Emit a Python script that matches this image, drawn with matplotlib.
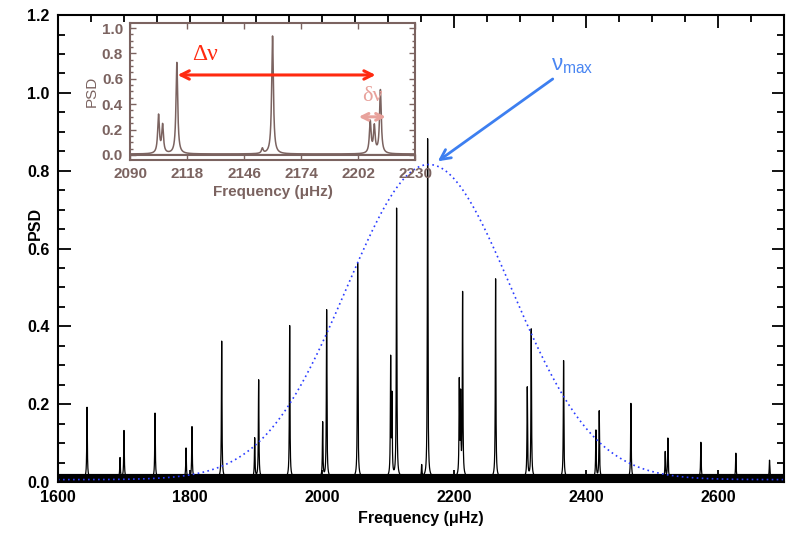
import numpy as np
import matplotlib
matplotlib.use("Agg")
import matplotlib.pyplot as plt
from matplotlib.ticker import MultipleLocator

plt.rcParams["font.family"] = ["Liberation Sans", "DejaVu Sans"]
plt.rcParams["mathtext.fontset"] = "custom"
plt.rcParams["mathtext.rm"] = "Liberation Sans"

# main spectrum: mode frequencies (uHz) and peak PSD
mode_freq = [1644, 1694, 1700, 1747, 1794, 1803, 1848, 1898, 1904, 1951,
             2001, 2007, 2054, 2104, 2106, 2113, 2151, 2160, 2208, 2210, 2213,
             2263, 2311, 2317, 2366, 2415, 2420, 2468, 2520, 2524, 2574,
             2627, 2678]
mode_height = [0.18, 0.05, 0.12, 0.165, 0.075, 0.13, 0.35, 0.10, 0.25, 0.39,
               0.14, 0.43, 0.55, 0.30, 0.20, 0.69, 0.03, 0.87, 0.24, 0.20, 0.47,
               0.51, 0.23, 0.38, 0.30, 0.12, 0.17, 0.19, 0.065, 0.10, 0.09,
               0.062, 0.044]

# zoomed spectrum (inset)
inset_freq = [2104, 2106, 2113, 2155, 2160, 2208, 2210, 2213]
inset_height = [0.30, 0.22, 0.72, 0.04, 0.93, 0.25, 0.21, 0.50]

# envelope (gaussian fit) parameters
numax = 2162
env_height = 0.81
env_sigma = 125
env_floor = 0.006

line_width = 0.5   # lorentzian half width, uHz
noise_level = 0.012

def spectrum(f, freqs, heights):
    p = np.full_like(f, noise_level)
    for f0, h in zip(freqs, heights):
        p += h / (1 + ((f - f0) / line_width) ** 2)
    return p

freq = np.linspace(1600, 2700, 60000)
psd = spectrum(freq, mode_freq, mode_height)
envelope = env_floor + env_height * np.exp(-(freq - numax) ** 2 / (2 * env_sigma ** 2))

fig = plt.figure(figsize=(7.89, 5.39), dpi=100)
ax = fig.add_axes([0.0735, 0.1058, 0.9202, 0.8662])
ax.fill_between(freq, 0.002, 0.022, color="black", lw=0)
ax.plot(freq, psd, color="black", lw=0.9)
ax.plot(freq, envelope, color="#2a3cff", lw=1.2, ls=(0, (1, 2)))
ax.set_xlim(1600, 2700)
ax.set_ylim(0, 1.2)
ax.xaxis.set_major_locator(MultipleLocator(200))
ax.xaxis.set_minor_locator(MultipleLocator(50))
ax.yaxis.set_major_locator(MultipleLocator(0.2))
ax.yaxis.set_minor_locator(MultipleLocator(0.05))
ax.yaxis.set_major_formatter(plt.FuncFormatter(lambda v, p: f"{v:.1f}"))
ax.tick_params(which="both", direction="in", top=True, right=True, width=1.3)
ax.tick_params(which="major", length=9, labelsize=11.5, pad=6)
ax.tick_params(which="minor", length=5)
for lab in ax.get_xticklabels() + ax.get_yticklabels():
    lab.set_fontweight("bold")
for s in ax.spines.values():
    s.set_linewidth(1.5)
ax.set_xlabel("Frequency (\u03bcHz)", fontsize=11.5, fontweight="bold", labelpad=4)
fig.text(0.045, 1 - 223 / 539, "PSD", rotation=90, fontsize=11.5, fontweight="bold",
         ha="center", va="center")

# nu_max annotation
ax.annotate("", xy=(2172, 0.82), xytext=(2353, 1.04),
            arrowprops=dict(arrowstyle="->", color="#3d7ff0", lw=2, mutation_scale=18))
ax.text(2347, 1.07, r"$\mathrm{\nu}_{\mathrm{max}}$", color="#4a86f2", fontsize=16,
        ha="left", va="center")

# inset
brown = "#7b6360"
ins = fig.add_axes([0.1648, 0.7032, 0.3612, 0.2542])
ifreq = np.linspace(2090, 2230, 20000)
ipsd = spectrum(ifreq, inset_freq, inset_height) - 0.005
ins.fill_between(ifreq, -0.005, 0.012, color=brown, lw=0)
ins.plot(ifreq, ipsd, color=brown, lw=1.1)
ins.set_xlim(2090, 2230)
ins.set_ylim(-0.04, 1.04)
ins.set_xticks([2090, 2118, 2146, 2174, 2202, 2230])
ins.yaxis.set_major_locator(MultipleLocator(0.2))
ins.yaxis.set_minor_locator(MultipleLocator(0.05))
ins.yaxis.set_major_formatter(plt.FuncFormatter(lambda v, p: f"{v:.1f}"))
ins.tick_params(which="both", direction="in", top=True, right=True, color=brown,
                labelcolor=brown, width=1)
ins.tick_params(which="major", length=4, labelsize=11, pad=5)
ins.tick_params(which="minor", length=2.5)
for lab in ins.get_xticklabels() + ins.get_yticklabels():
    lab.set_fontweight("bold")
for s in ins.spines.values():
    s.set_linewidth(1.5)
    s.set_color(brown)
ins.set_xlabel("Frequency (\u03bcHz)", fontsize=11, fontweight="bold", color=brown,
               labelpad=3)
ins.set_ylabel("PSD", fontsize=11, color=brown, labelpad=2)

ins.annotate("", xy=(2112, 0.63), xytext=(2212, 0.63),
             arrowprops=dict(arrowstyle="<->", color="#ff2a10", lw=2.2, mutation_scale=15))
ins.text(2127, 0.79, "\u0394\u03bd", color="#ff2a10", fontsize=17,
         family=["Liberation Serif", "DejaVu Serif"], ha="center", va="center")
ins.annotate("", xy=(2201, 0.30), xytext=(2217, 0.30),
             arrowprops=dict(arrowstyle="<->", color="#e8a29c", lw=2.2, mutation_scale=12))
ins.text(2209, 0.46, "\u03b4\u03bd", color="#e8a29c", fontsize=16,
         family=["Liberation Serif", "DejaVu Serif"], ha="center", va="center")

fig.savefig("out.png", dpi=100)
